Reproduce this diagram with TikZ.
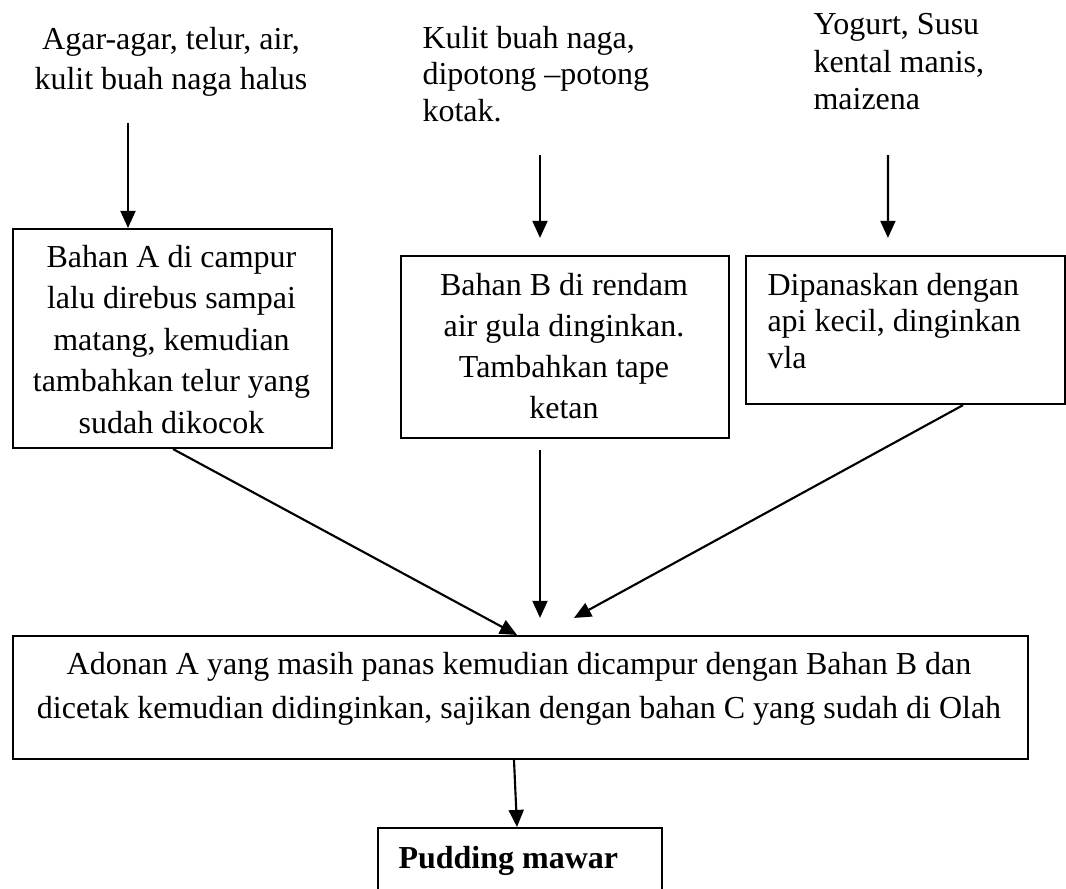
\documentclass[tikz,border=0pt]{standalone}
\usepackage{fontspec}
\setmainfont{Liberation Serif}
\usetikzlibrary{arrows.meta}
\newcommand{\tb}[4]{\parbox[t]{#1}{\fontsize{12pt}{#2}\selectfont#3#4}}
\begin{document}
\begin{tikzpicture}[x=0.375pt,y=-0.375pt,
  box/.style={draw, line width=0.8pt, inner sep=0pt, anchor=north west},
  txt/.style={inner sep=0pt, font=\fontsize{12pt}{14pt}\selectfont},
  arr/.style={line width=0.8pt, -{Triangle[width=5.6pt,length=6.4pt]}}]
\useasboundingbox (0,0) rectangle (1066,889);
\clip (0,0) rectangle (1066,889);

% boxes
\node[box, minimum width=119.6pt, minimum height=82.1pt] (A) at (12,228) {};
\node[box, minimum width=123pt, minimum height=68.2pt] (B) at (400,255) {};
\node[box, minimum width=119.6pt, minimum height=55.5pt] (C) at (745,255) {};
\node[box, minimum width=380.6pt, minimum height=46.1pt] (M) at (12,635) {};
\node[box, minimum width=106.5pt, minimum height=40pt] (P) at (377,827) {};

% texts
\node[txt, anchor=base] (T1) at (171,50) {\tb{150pt}{15pt}{\centering}{Agar-agar, telur, air,\\kulit buah naga halus}};
\node[txt, anchor=base west] (T2) at (422,48) {\tb{120pt}{13.7pt}{\raggedright}{Kulit buah naga,\\dipotong –potong\\kotak.}};
\node[txt, anchor=base west] (T3) at (813,35) {\tb{110pt}{14pt}{\raggedright}{Yogurt, Susu\\kental manis,\\maizena}};
\node[txt, anchor=base] (AT) at (171.5,267) {\tb{150pt}{15.6pt}{\centering}{Bahan A di campur\\lalu direbus sampai\\matang, kemudian\\tambahkan telur yang\\sudah dikocok}};
\node[txt, anchor=base] (BT) at (564,295) {\tb{150pt}{15.4pt}{\centering}{Bahan B di rendam\\air gula dinginkan.\\Tambahkan tape\\ketan}};
\node[txt, anchor=base west] (CT) at (767,295) {\tb{115pt}{13.7pt}{\raggedright}{Dipanaskan dengan\\api kecil, dinginkan\\vla}};
\node[txt, anchor=base] (MT) at (519,674) {\tb{395pt}{16.5pt}{\centering}{Adonan A yang masih panas kemudian dicampur dengan Bahan B dan\\dicetak kemudian didinginkan, sajikan dengan bahan C yang sudah di Olah}};
\node[txt, anchor=base west] (PT) at (398,868) {\textbf{Pudding mawar}};

% arrow start points
\coordinate (s1) at (128,123);
\coordinate (s2) at (540,155);
\coordinate (s3) at (888,155);

% connectors
\draw[arr] (s1) -- ([xshift=43.5pt]A.north west);
\draw[arr] (s2) -- ([xshift=52.5pt,yshift=6.4pt]B.north west);
\draw[arr] (s3) -- ([xshift=53.6pt,yshift=6.4pt]C.north west);
\draw[arr] ([xshift=60.4pt]A.south west) -- ([xshift=189.4pt]M.north west);
\draw[arr] ([xshift=52.5pt,yshift=-4.1pt]B.south west) -- ([xshift=198pt,yshift=6.4pt]M.north west);
\draw[arr] ([xshift=81.75pt]C.south west) -- ([xshift=210.75pt,yshift=6.4pt]M.north west);
\draw[arr] ([xshift=188.25pt]M.south west) -- ([xshift=52.5pt]P.north west);
\end{tikzpicture}
\end{document}
